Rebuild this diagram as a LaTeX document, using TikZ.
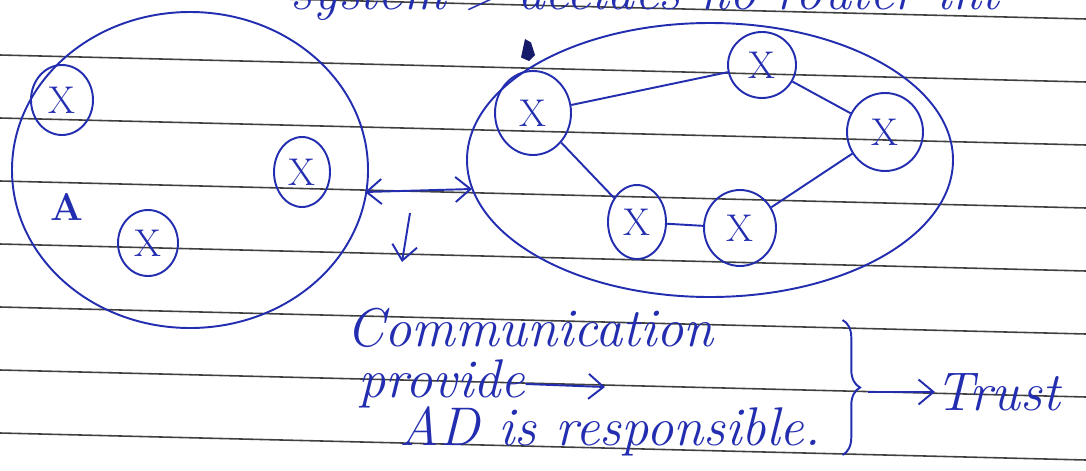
\documentclass[tikz,border=0pt]{standalone}
\usepackage{amsmath}
\usepackage{tkz-euclide}
\usetikzlibrary{shapes.geometric,arrows.meta,decorations.pathreplacing}
\definecolor{ink}{RGB}{35,45,175}
\tikzset{
  pen/.style={draw=ink, line width=1.1pt},
  xnode/.style={pen, ellipse, inner sep=0pt, text=ink,
    font=\fontsize{22}{24}\selectfont},
  handtext/.style={text=ink, inner sep=0pt,
    font=\fontsize{31}{36}\selectfont\itshape},
  rule/.style={black!75, line width=0.9pt},
  barb/.style={-{Straight Barb[length=3mm,width=5mm]}},
}

\begin{document}
\begin{tikzpicture}
                    \useasboundingbox (0,0) rectangle (21.72,9.4);
                    \clip (0,0) rectangle (21.72,9.4);
                    % ruled paper
                    \foreach \i in {0,...,7}
                      \draw[rule] (0,{9.56-1.26*\i}) -- (21.72,{9.02-1.26*\i});
                    \node[handtext, anchor=base west] (top) at (5.8,9.2) {system $>$ decides no router int};
                    % the two groups
                    \node[pen, ellipse, minimum width=7.12cm, minimum height=6.32cm] (domA) at (3.8,6.0) {};
                    \node[pen, ellipse, minimum width=9.72cm, minimum height=5.48cm] (domB) at (14.2,6.2) {};
                    \tkzDefPoints{1.24/7.4/L1,6.04/5.96/L2,2.96/4.54/L3,
                      10.66/7.14/R1,15.24/8.1/R2,17.7/6.76/R3,12.74/4.96/R4,14.8/4.84/R5}
                    \node[xnode, minimum width=1.24cm, minimum height=1.4cm] (l1) at (L1) {X};
                    \node[xnode, minimum width=1.12cm, minimum height=1.4cm] (l2) at (L2) {X};
                    \node[xnode, minimum width=1.2cm, minimum height=1.32cm] (l3) at (L3) {X};
                    \node[xnode, minimum width=1.52cm, minimum height=1.68cm] (r1) at (R1) {X};
                    \node[xnode, minimum width=1.36cm, minimum height=1.32cm] (r2) at (R2) {X};
                    \node[xnode, minimum width=1.52cm, minimum height=1.56cm] (r3) at (R3) {X};
                    \node[xnode, minimum width=1.16cm, minimum height=1.48cm] (r4) at (R4) {X};
                    \node[xnode, minimum width=1.44cm, minimum height=1.52cm] (r5) at (R5) {X};
                    \draw[pen] (r1) -- (r2) -- (r3) -- (r5) -- (r4) -- (r1);
                    \node[handtext, font=\fontsize{22}{24}\selectfont\bfseries] (labA) at (1.34,5.26) {A};
                    \fill[ink!60!black] (10.42,8.25) -- (10.5,8.62) -- (10.62,8.55) -- (10.7,8.3) -- (10.58,8.18) -- cycle;
                    % between them
                    \coordinate (pa) at (7.3,5.56);
                    \coordinate (pb) at (9.44,5.62);
                    \draw[pen, {Straight Barb[length=3mm,width=5mm]}-{Straight Barb[length=3mm,width=5mm]}] (pa) -- (pb);
                    \coordinate (da) at (8.2,5.14);
                    \coordinate (db) at (8.04,4.16);
                    \draw[pen, barb] (da) -- (db);
                    % notes
                    \node[handtext] (comm) at (10.6,2.84) {Communication};
                    \node[handtext, anchor=west] (prov) at (7.16,1.72) {provide};
                    \coordinate (pv) at (12.1,1.66);
                    \draw[pen, barb] (prov.east) -- (pv);
                    \node[handtext] (resp) at (12.2,0.78) {AD is responsible.};
                    \draw[pen, decorate, decoration={brace, amplitude=10pt}] (16.85,3.0) -- (16.85,0.3);
                    \node[handtext, anchor=west] (trust) at (18.7,1.56) {Trust};
                    \coordinate (bt) at (17.35,1.56);
                    \draw[pen, barb] (bt) -- (trust);
                \end{tikzpicture}
\end{document}
